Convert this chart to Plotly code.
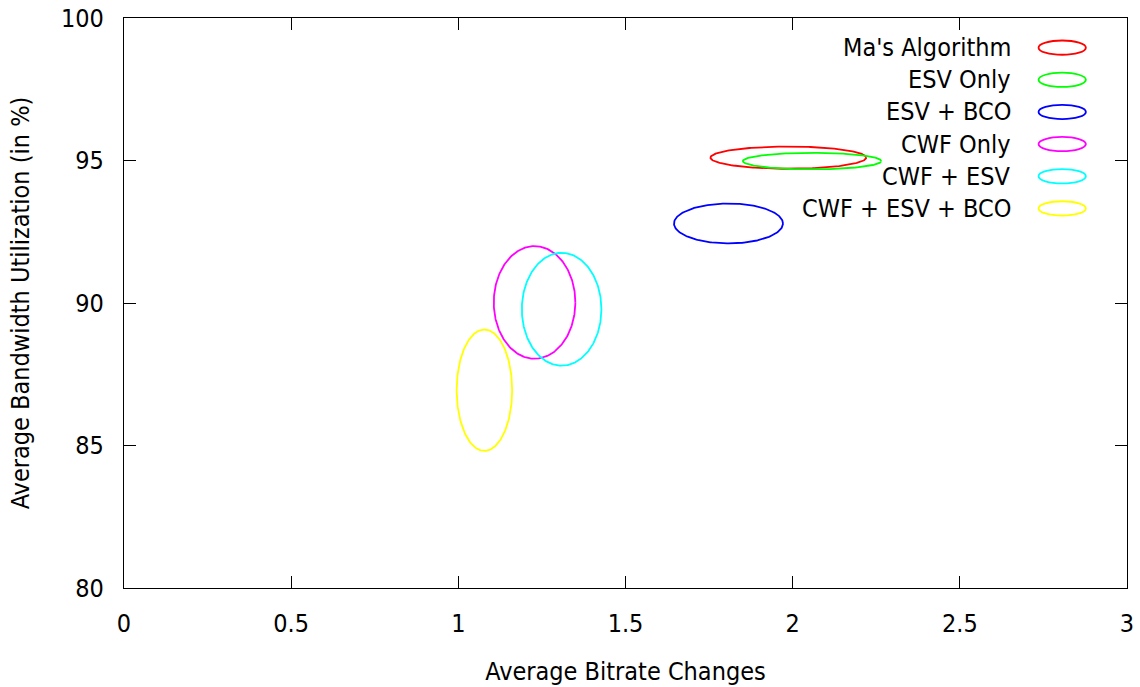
import numpy as np
import plotly.graph_objects as go

# Data
names = ["Ma's Algorithm", "ESV Only", "ESV + BCO", "CWF Only", "CWF + ESV", "CWF + ESV + BCO"]
colors = ["#ff0000", "#00ff00", "#0000ff", "#ff00ff", "#00ffff", "#ffff00"]
cx = [1.987, 2.058, 1.808, 1.228, 1.309, 1.078]      # Average Bitrate Changes
cy = [95.10, 94.98, 92.79, 90.02, 89.78, 86.94]      # Average Bandwidth Utilization
rx = [0.233, 0.207, 0.163, 0.122, 0.119, 0.083]      # half-width (x spread)
ry = [0.390, 0.290, 0.700, 1.975, 1.980, 2.130]      # half-height (y spread)

x_ticks = [0, 0.5, 1, 1.5, 2, 2.5, 3]
x_ticktext = ["0", "0.5", "1", "1.5", "2", "2.5", "3"]
y_ticks = [80, 85, 90, 95, 100]

FONT = "DejaVu Sans Condensed, DejaVu Sans, sans-serif"
FS = 25

t = np.linspace(0, 2 * np.pi, 241)
fig = go.Figure()
for n, c, x0, y0, a, b in zip(names, colors, cx, cy, rx, ry):
    fig.add_trace(go.Scatter(
        x=x0 + a * np.cos(t), y=y0 + b * np.sin(t), mode="lines",
        line=dict(color=c, width=1.8), name=n, showlegend=False, hoverinfo="name"))

# custom legend (text right aligned + ellipse sample)
leg_text_x = 0.886
leg_cx = 0.9354
leg_hw = 0.0236
leg_hh = 0.0125
leg_y0 = 0.948
leg_dy = 0.0564
for i, (n, c) in enumerate(zip(names, colors)):
    yy = leg_y0 - i * leg_dy
    fig.add_annotation(x=leg_text_x, y=yy, xref="paper", yref="paper", text=n,
                       showarrow=False, xanchor="right", yanchor="middle",
                       font=dict(family=FONT, size=FS, color="black"))
    fig.add_shape(type="circle", xref="paper", yref="paper",
                  x0=leg_cx - leg_hw, x1=leg_cx + leg_hw, y0=yy - leg_hh, y1=yy + leg_hh,
                  line=dict(color=c, width=1.8))

axis_common = dict(showline=True, linecolor="black", linewidth=1.3, mirror="allticks",
                   ticks="inside", ticklen=12, tickcolor="black", tickwidth=1.1,
                   showgrid=False, zeroline=False, automargin=False,
                   tickfont=dict(family=FONT, size=FS, color="black"))

fig.update_layout(
    width=1140, height=687,
    margin=dict(l=123.5, r=13, t=17.7, b=98.7, autoexpand=False),
    paper_bgcolor="white", plot_bgcolor="white",
    xaxis=dict(range=[0, 3], tickvals=x_ticks, ticktext=x_ticktext,
               title=dict(text="Average Bitrate Changes", font=dict(family=FONT, size=FS, color="black"), standoff=25),
               ticklabelstandoff=13, **axis_common),
    yaxis=dict(range=[80, 100], tickvals=y_ticks,
               title=dict(text="Average Bandwidth Utilization (in %)", font=dict(family=FONT, size=FS, color="black"), standoff=24),
               ticklabelstandoff=14, **axis_common),
)

fig.write_html("out.html")
